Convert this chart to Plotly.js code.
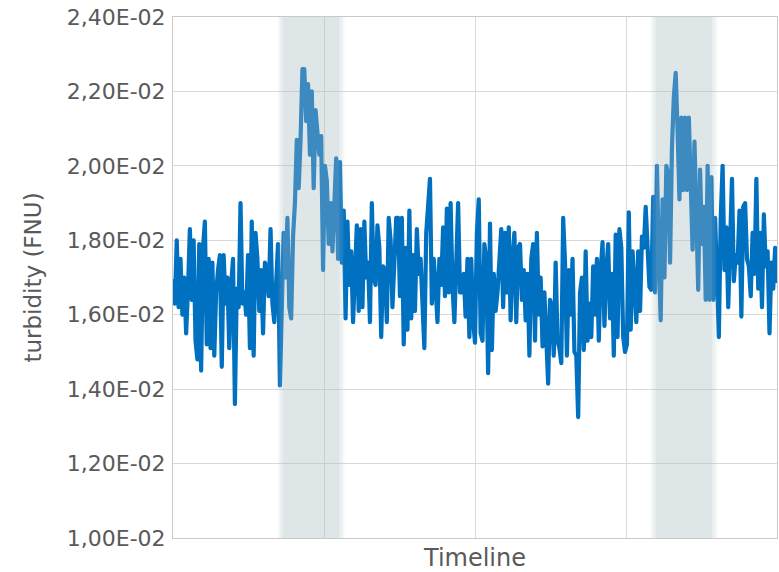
<!DOCTYPE html>
<html>
<head>
<meta charset="utf-8">
<script src="https://cdn.plot.ly/plotly-3.0.1.min.js"></script>
<style>
html, body { margin: 0; padding: 0; background: #ffffff; }
#chart { width: 779px; height: 572px; }
.scatterlayer path.js-line { stroke-linejoin: round !important; stroke-linecap: round !important; }
</style>
</head>
<body>
<div id="chart"></div>
<script>
// Turbidity readings (FNU), in time order
const turbidity = [
  // before first event
  0.0169,0.0163,0.0180,0.0162,0.0175,0.0160,0.0170,0.0155,0.0167,0.0183,
  0.0164,0.0180,0.0153,0.0148,0.0179,0.0145,0.0178,0.0185,0.0152,0.0175,
  0.0151,0.0174,0.0149,0.0166,0.0172,0.0176,0.0146,0.0176,0.0163,0.0170,
  0.0151,0.0168,0.0175,0.0136,0.0167,0.0162,0.0190,0.0163,0.0166,0.0160,
  0.0176,0.0151,0.0185,0.0149,0.0182,0.0175,0.0161,0.0172,0.0155,0.0174,
  0.0173,0.0165,0.0183,0.0163,0.0158,0.0170,0.0179,0.0141,
  // first event
  0.0166,0.0182,0.0170,0.0186,0.0162,0.0159,0.0181,0.0190,0.0207,0.0194,
  0.0207,0.0226,0.0226,0.0212,0.0222,0.0203,0.0220,0.0194,0.0215,0.0210,
  0.0203,0.0208,0.0172,0.0200,0.0196,0.0179,0.0190,0.0177,0.0190,0.0202,
  0.0175,0.0201,0.0174,
  // between events
  0.0188,0.0159,0.0185,0.0168,0.0177,0.0158,0.0176,0.0184,0.0161,0.0183,
  0.0162,0.0185,0.0170,0.0174,0.0158,0.0190,0.0170,0.0168,0.0184,0.0178,
  0.0154,0.0173,0.0172,0.0158,0.0186,0.0180,0.0162,0.0174,0.0186,0.0186,
  0.0165,0.0186,0.0152,0.0178,0.0156,0.0188,0.0159,0.0176,
  0.0161,0.0183,0.0171,0.0175,0.0162,0.0151,0.0182,0.0189,0.01965,0.0163,
  0.0175,0.01675,0.0158,0.0175,0.0168,0.01835,0.0165,0.01885,0.0166,0.0190,
  0.01675,0.0158,0.0171,0.0190,0.0166,0.0166,0.0171,0.01595,0.0175,0.0154,
  0.0175,0.01585,0.01525,0.0182,0.0191,0.0155,0.0153,0.0179,0.0175,0.01443,
  0.01845,0.01505,0.0171,0.0161,0.0166,0.01755,0.0183,0.0162,0.0182,0.0166,
  0.01835,0.01585,0.0175,0.0182,0.0158,0.0178,0.0179,0.0164,0.0172,0.01585,
  0.0171,0.0149,0.0175,
  0.0179,0.0153,0.0182,0.0160,0.0170,0.01515,0.0166,0.0151,0.01415,0.0164,
  0.0162,0.0149,0.0174,0.0153,0.0151,0.0147,0.0186,0.0174,0.0149,0.0172,
  0.0160,0.0175,0.0150,0.0149,0.01325,0.0166,0.0170,0.01505,0.0177,0.0153,
  0.0163,0.0154,0.0173,0.0160,0.0175,0.0153,0.0172,0.01795,0.0157,0.0172,
  0.0179,0.0159,0.0171,0.0149,0.01815,0.0154,0.0183,0.0178,0.0154,0.0150,
  0.0152,0.01875,0.0156,0.0177,0.0166,0.0158,0.0177,0.0161,0.0181,0.0178,
  0.0189,0.0178,0.01675,
  // second event and after
  0.01667,0.01917,0.0166,0.0200,0.0175,0.01585,0.0191,0.0170,0.0200,0.0198,
  0.0174,0.0205,0.02185,0.0225,0.02095,0.0191,0.0213,0.01935,0.0213,0.01935,
  0.0213,0.0199,0.01775,0.02065,0.0186,0.01667,0.0199,0.0179,0.0189,0.0164,
  0.0200,0.0164,0.0197,0.0164,0.0186,0.0172,0.0154,0.0186,0.0200,0.0172,
  0.01835,0.0162,0.0178,0.01965,0.0169,0.0176,0.0174,0.0188,0.01595,0.0189,
  0.0190,0.0175,0.0173,0.0165,0.0182,0.0171,0.01965,0.0167,0.0182,0.0162,
  0.0187,0.0173,0.0177,0.0155,0.0174,0.0167,0.0178,0.0169
];

// Sample number along the timeline
const sampleIndex = turbidity.map((v, i) => i);

// Shaded event periods (in sample numbers)
const eventPeriods = [[57.6, 89.6], [256.4, 288.4]];

// Y tick values and their labels as printed on the chart
const yTickValues = [0.010, 0.012, 0.014, 0.016, 0.018, 0.020, 0.022, 0.024];
const yTickLabels = ['1,00E-02','1,20E-02','1,40E-02','1,60E-02','1,80E-02','2,00E-02','2,20E-02','2,40E-02'];

const lastIndex = turbidity.length - 1;
const xGridValues = [lastIndex / 4, lastIndex / 2, 3 * lastIndex / 4];

const shadeRGB = '166,186,192';
const shapes = [];
eventPeriods.forEach(([a, b]) => {
  const parts = [
    [a + 0.8, b - 0.8, 0.36],
    [a - 0.8, a + 0.8, 0.22],
    [b - 0.8, b + 0.8, 0.22],
    [a - 1.8, a - 0.8, 0.08],
    [b + 0.8, b + 1.8, 0.08]
  ];
  parts.forEach(([x0, x1, al]) => {
    shapes.push({
      type: 'rect', xref: 'x', yref: 'paper', x0: x0, x1: x1, y0: 0, y1: 1,
      fillcolor: 'rgba(' + shadeRGB + ',' + al + ')', line: { width: 0 }, layer: 'above'
    });
  });
});

const textColor = '#595959';
const fontFam = '"DejaVu Sans", "Liberation Sans", Arial, sans-serif';

const trace = {
  x: sampleIndex,
  y: turbidity,
  type: 'scatter',
  mode: 'lines',
  line: { color: '#0070C0', width: 4.2 },
  hoverinfo: 'skip'
};

const layout = {
  width: 779,
  height: 572,
  margin: { l: 173, r: 2, t: 17, b: 34, pad: 0 },
  paper_bgcolor: '#ffffff',
  plot_bgcolor: '#ffffff',
  showlegend: false,
  font: { family: fontFam, color: textColor },
  shapes: shapes,
  xaxis: {
    range: [0, lastIndex],
    tickmode: 'array',
    tickvals: xGridValues,
    showticklabels: false,
    ticks: '',
    showgrid: true,
    gridcolor: '#d9d9d9',
    gridwidth: 1,
    zeroline: false,
    showline: true,
    linecolor: '#c9c9c9',
    linewidth: 1,
    mirror: true,
    title: { text: 'Timeline', font: { size: 24, family: fontFam, color: textColor }, standoff: 11 }
  },
  yaxis: {
    range: [0.010, 0.024],
    tickmode: 'array',
    tickvals: yTickValues,
    ticktext: yTickLabels,
    tickfont: { size: 22, family: fontFam, color: textColor },
    ticks: '',
    ticklabelstandoff: 2,
    showgrid: true,
    gridcolor: '#d9d9d9',
    gridwidth: 1,
    zeroline: false,
    showline: true,
    linecolor: '#c9c9c9',
    linewidth: 1,
    mirror: true,
    title: { text: 'turbidity (FNU)', font: { size: 23, family: fontFam, color: textColor }, standoff: 18 }
  }
};

Plotly.newPlot('chart', [trace], layout, { staticPlot: true, displayModeBar: false });
</script>
</body>
</html>
